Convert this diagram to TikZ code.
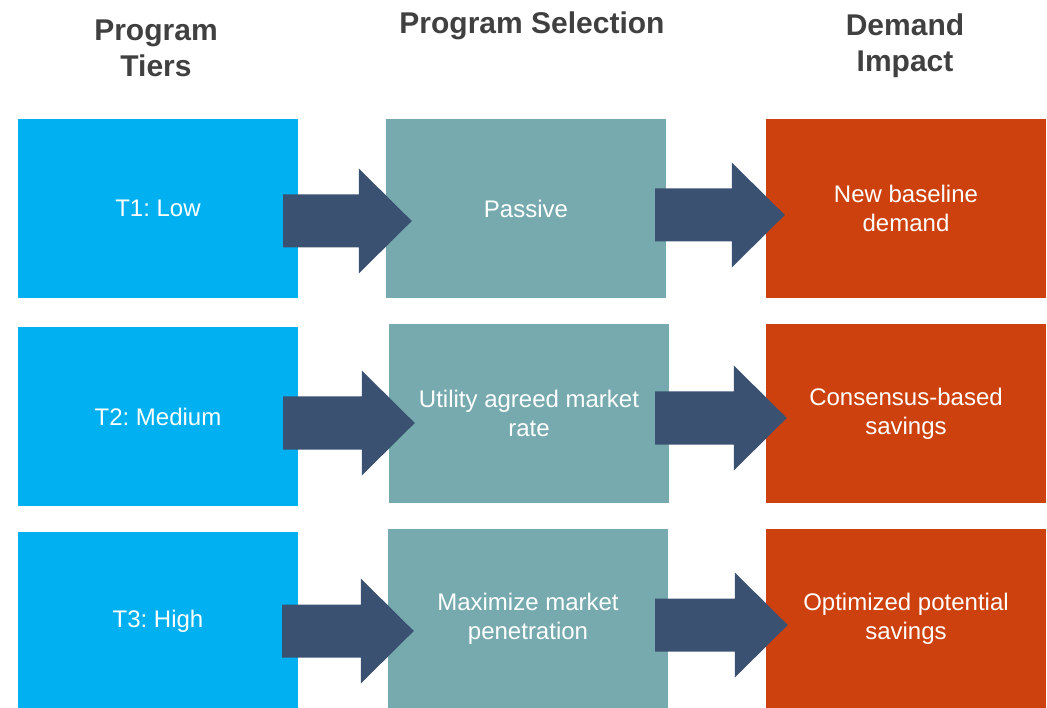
\documentclass[tikz,border=0pt]{standalone}
\usepackage{fontspec}
\setmainfont{Liberation Sans}
\usepackage{xcolor}
\usetikzlibrary{
    calc,
    positioning
}
\frenchspacing
\definecolor{tierblue}{RGB}{0,176,240}
\definecolor{selteal}{RGB}{119,170,174}
\definecolor{impactred}{RGB}{204,65,14}
\definecolor{flownavy}{RGB}{58,81,114}
\definecolor{headgray}{RGB}{64,64,64}
\tikzset{
    box/.style={rectangle, minimum width=280pt, minimum height=179pt, inner sep=0pt,
        text=white, align=center, font=\fontsize{24}{29}\selectfont},
    tierbox/.style={box, fill=tierblue},
    selbox/.style={box, fill=selteal},
    impactbox/.style={box, fill=impactred},
    header/.style={align=center, text=headgray, font=\fontsize{30}{36}\selectfont\bfseries},
    flowarrow/.style={fill=flownavy}
}
\newcommand{\flowarrow}[2]{
    \fill[flowarrow] let \p1=#1, \p2=#2 in
        (\x1, {\y1+26.5pt}) -- ({\x2-53pt}, {\y1+26.5pt}) -- ({\x2-53pt}, {\y2+52.5pt})
        -- (\x2, \y2) -- ({\x2-53pt}, {\y2-52.5pt}) -- ({\x2-53pt}, {\y1-26.5pt})
        -- (\x1, {\y1-26.5pt}) -- cycle;
}

\begin{document}
\begin{tikzpicture}[x=1pt, y=-1pt]
    \useasboundingbox (0, 0) rectangle (1047, 708);
    \node[header] (h1) at (156, 48) {Program\\Tiers};
    \node[header] (h2) at (532, 26) {Program Selection};
    \node[header] (h3) at (905, 46) {Demand\\Impact};

    \node[tierbox] (t1) at (158, 208.5) {T1: Low};
    \node[selbox] (s1) at (526, 208.5) {Passive};
    \node[impactbox] (d1) at (906, 208.5) {New baseline\\demand};

    \node[tierbox] (t2) at (158, 416.5) {T2: Medium};
    \node[selbox] (s2) at (529, 413.5) {Utility agreed market\\rate};
    \node[impactbox] (d2) at (906, 413.5) {Consensus-based\\savings};

    \node[tierbox] (t3) at (158, 621.5) {T3: High};
    \node[selbox] (s3) at (528, 618.5) {Maximize market\\penetration};
    \node[impactbox] (d3) at (906, 618.5) {Optimized potential\\savings};

    \flowarrow{($(t1.east)+(-15, 12.5)$)}{($(s1.west)+(26, 12.5)$)}
    \flowarrow{($(s1.east)+(-11, 6.5)$)}{($(d1.west)+(19, 6.5)$)}
    \flowarrow{($(t2.east)+(-15, 6.5)$)}{($(s2.west)+(26, 9.5)$)}
    \flowarrow{($(s2.east)+(-14, 4.5)$)}{($(d2.west)+(21, 4.5)$)}
    \flowarrow{($(t3.east)+(-16, 9.5)$)}{($(s3.west)+(26, 12.5)$)}
    \flowarrow{($(s3.east)+(-13, 6.5)$)}{($(d3.west)+(22, 6.5)$)}
\end{tikzpicture}
\end{document}
